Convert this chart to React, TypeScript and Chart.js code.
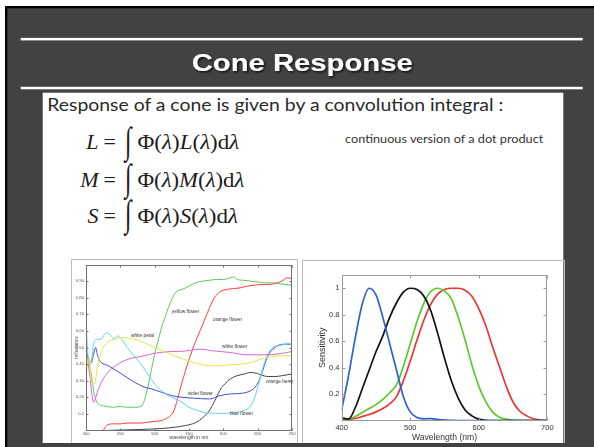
import React, { useEffect, useRef } from "react";
import { Chart, registerables } from "chart.js";

Chart.register(...registerables);

// ---------------- Right panel: cone / rod sensitivity ----------------
const sensWavelength = [400, 410, 420, 430, 440, 450, 460, 470, 480, 490, 500, 510, 520, 530, 540, 550, 560, 570, 580, 590, 600, 610, 620, 630, 640, 650, 660, 670, 680, 690, 700];
const sConeSens = [0.08, 0.34, 0.63, 0.88, 1.0, 0.95, 0.78, 0.58, 0.38, 0.18, 0.065, 0.022, 0.013, 0.014, 0.008, 0.003, 0.001, 0, 0, 0, 0, 0, 0, 0, 0, 0, 0, 0, 0, 0, 0];
const rodSens = [0.02, 0.01, 0.1, 0.24, 0.38, 0.52, 0.64, 0.78, 0.89, 0.97, 1.0, 0.99, 0.94, 0.83, 0.66, 0.47, 0.3, 0.17, 0.08, 0.035, 0.01, 0.002, 0, 0, 0, 0, 0, 0, 0, 0, 0];
const mConeSens = [0, 0.01, 0.03, 0.06, 0.09, 0.12, 0.16, 0.21, 0.27, 0.41, 0.58, 0.75, 0.89, 0.975, 1.0, 0.98, 0.92, 0.78, 0.61, 0.42, 0.26, 0.145, 0.065, 0.025, 0.01, 0.003, 0, 0, 0, 0, 0];
const lConeSens = [0, 0.008, 0.015, 0.03, 0.045, 0.065, 0.09, 0.125, 0.18, 0.3, 0.45, 0.61, 0.76, 0.88, 0.955, 0.99, 1.0, 1.0, 0.985, 0.94, 0.845, 0.72, 0.56, 0.41, 0.26, 0.14, 0.07, 0.035, 0.013, 0.004, 0];
const sensXTicks = [400, 500, 600, 700];
const sensYTicks = [0.2, 0.4, 0.6, 0.8, 1];
const sensYLabels = ["0.2", "0.4", "0.6", "0.8", "1"];

// ---------------- Left panel: flower reflectance spectra ----------------
const yellowFlowerNm = [400, 404, 408, 412, 416, 420, 430, 440, 450, 460, 470, 480, 485, 490, 495, 500, 505, 510, 515, 520, 525, 530, 535, 540, 550, 560, 570, 580, 590, 600, 610, 615, 620, 630, 640, 650, 660, 670, 680, 690, 700];
const yellowFlowerR = [0.5, 0.42, 0.33, 0.22, 0.17, 0.155, 0.145, 0.14, 0.145, 0.14, 0.14, 0.145, 0.18, 0.26, 0.36, 0.46, 0.54, 0.62, 0.68, 0.74, 0.79, 0.83, 0.845, 0.85, 0.87, 0.89, 0.9, 0.905, 0.91, 0.91, 0.92, 0.925, 0.91, 0.905, 0.9, 0.895, 0.89, 0.89, 0.885, 0.88, 0.875];

const orangeFlowerNm = [425, 430, 440, 450, 460, 470, 480, 490, 500, 510, 520, 527, 532, 537, 542, 547, 552, 557, 562, 567, 572, 577, 582, 587, 592, 597, 605, 615, 625, 635, 645, 655, 665, 675, 685, 693, 700];
const orangeFlowerR = [0.0, 0.03, 0.04, 0.04, 0.045, 0.045, 0.045, 0.05, 0.055, 0.06, 0.08, 0.11, 0.17, 0.25, 0.32, 0.39, 0.45, 0.51, 0.56, 0.61, 0.66, 0.71, 0.76, 0.8, 0.825, 0.84, 0.85, 0.855, 0.86, 0.87, 0.875, 0.88, 0.88, 0.885, 0.9, 0.92, 0.915];

const orangeBerryNm = [428, 450, 470, 490, 510, 530, 545, 555, 565, 572, 578, 584, 590, 596, 602, 610, 620, 630, 640, 648, 655, 665, 675, 685, 692, 700];
const orangeBerryR = [0.0, 0.003, 0.005, 0.008, 0.012, 0.02, 0.03, 0.04, 0.06, 0.085, 0.11, 0.15, 0.2, 0.25, 0.28, 0.31, 0.33, 0.34, 0.35, 0.345, 0.335, 0.325, 0.325, 0.33, 0.335, 0.34];

const blueFlowerNm = [400, 403, 407, 411, 416, 422, 427, 431, 436, 441, 446, 452, 460, 470, 480, 490, 500, 510, 520, 530, 540, 550, 560, 570, 580, 590, 600, 610, 620, 630, 638, 645, 650, 655, 660, 665, 672, 680, 690, 695, 700];
const blueFlowerR = [0.65, 0.45, 0.4, 0.52, 0.55, 0.55, 0.58, 0.59, 0.57, 0.555, 0.57, 0.55, 0.5, 0.45, 0.4, 0.34, 0.28, 0.24, 0.21, 0.19, 0.17, 0.14, 0.125, 0.11, 0.105, 0.103, 0.103, 0.105, 0.11, 0.12, 0.14, 0.19, 0.26, 0.34, 0.41, 0.46, 0.5, 0.51, 0.52, 0.525, 0.51];

const violetFlowerNm = [400, 404, 408, 411, 414, 417, 420, 433, 452, 467, 486, 496, 510, 525, 540, 556, 580, 595, 610, 634, 648, 653, 658, 665, 672, 687, 700];
const violetFlowerR = [0.47, 0.43, 0.41, 0.46, 0.5, 0.45, 0.42, 0.39, 0.34, 0.3, 0.26, 0.25, 0.23, 0.21, 0.2, 0.195, 0.19, 0.21, 0.22, 0.23, 0.27, 0.31, 0.37, 0.45, 0.49, 0.52, 0.52];

const whiteFlowerNm = [400, 405, 411, 418, 428, 443, 462, 481, 501, 525, 540, 566, 585, 610, 634, 658, 678, 700];
const whiteFlowerR = [0.48, 0.35, 0.17, 0.25, 0.33, 0.39, 0.43, 0.447, 0.466, 0.476, 0.477, 0.49, 0.48, 0.47, 0.456, 0.456, 0.46, 0.476];

const whitePetalNm = [400, 404, 408, 412, 418, 425, 435, 445, 455, 465, 475, 490, 505, 520, 535, 550, 565, 580, 595, 610, 625, 640, 655, 670, 685, 700];
const whitePetalR = [0.3, 0.45, 0.3, 0.28, 0.42, 0.5, 0.54, 0.555, 0.56, 0.555, 0.545, 0.52, 0.49, 0.466, 0.44, 0.42, 0.4, 0.39, 0.39, 0.397, 0.4, 0.41, 0.43, 0.445, 0.45, 0.45];

const reflXTicks = [400, 450, 500, 550, 600, 650, 700];
const reflYTicks = [0.1, 0.2, 0.3, 0.4, 0.5, 0.6, 0.7, 0.8, 0.9];
const reflYLabels = ["0.1", "0.20", "0.30", "0.40", "0.50", "0.60", "0.70", "0.80", "0.90"];

const reflLabelText = ["yellow flower", "orange flower", "white petal", "white flower", "violet flower", "blue flower", "orange berry"];
const reflLabelNm = [525, 585, 465.5, 598, 548, 609.6, 662];
const reflLabelR = [0.713, 0.666, 0.571, 0.502, 0.219, 0.104, 0.293];

const SANS = "'Liberation Sans', Arial, sans-serif";

function makeBoxTicks(color: string, len: number) {
  return {
    id: "boxTicks",
    afterDatasetsDraw(chart: any) {
      const { ctx, chartArea: a, scales } = chart;
      const L = Math.round(a.left) + 0.5;
      const R = Math.round(a.right) - 0.5;
      const T = Math.round(a.top) + 0.5;
      const B = Math.round(a.bottom) - 0.5;
      ctx.save();
      ctx.strokeStyle = color;
      ctx.lineWidth = 1;
      ctx.strokeRect(L, T, R - L, B - T);
      ctx.beginPath();
      scales.x.ticks.forEach((t: any) => {
        const px = Math.round(scales.x.getPixelForValue(t.value)) + 0.5;
        ctx.moveTo(px, B);
        ctx.lineTo(px, B - len);
        ctx.moveTo(px, T);
        ctx.lineTo(px, T + len);
      });
      scales.y.ticks.forEach((t: any) => {
        const py = Math.round(scales.y.getPixelForValue(t.value)) + 0.5;
        ctx.moveTo(L, py);
        ctx.lineTo(L + len, py);
        ctx.moveTo(R, py);
        ctx.lineTo(R - len, py);
      });
      ctx.stroke();
      ctx.restore();
    },
  };
}

const curveLabelPlugin = {
  id: "curveLabels",
  afterDatasetsDraw(chart: any) {
    const { ctx, scales } = chart;
    ctx.save();
    ctx.font = `4.8px ${SANS}`;
    ctx.fillStyle = "#333";
    ctx.textBaseline = "middle";
    ctx.textAlign = "left";
    reflLabelText.forEach((txt, i) => {
      ctx.fillText(txt, scales.x.getPixelForValue(reflLabelNm[i]), scales.y.getPixelForValue(reflLabelR[i]));
    });
    ctx.restore();
  },
};

function series(label: string, xs: number[], ys: number[], color: string, width: number) {
  return {
    label,
    data: xs.map((x, i) => ({ x, y: ys[i] })),
    showLine: true,
    borderColor: color,
    backgroundColor: color,
    borderWidth: width,
    pointRadius: 0,
    cubicInterpolationMode: "monotone",
    fill: false,
  };
}

function buildReflectanceConfig(): any {
  return {
    type: "scatter",
    data: {
      datasets: [
        series("white petal", whitePetalNm, whitePetalR, "#e4e44a", 1),
        series("white flower", whiteFlowerNm, whiteFlowerR, "#d466d4", 1),
        series("blue flower", blueFlowerNm, blueFlowerR, "#62d4ea", 1),
        series("violet flower", violetFlowerNm, violetFlowerR, "#4a4ad0", 1),
        series("orange berry", orangeBerryNm, orangeBerryR, "#444444", 1),
        series("orange flower", orangeFlowerNm, orangeFlowerR, "#ff3c3c", 1),
        series("yellow flower", yellowFlowerNm, yellowFlowerR, "#5cc85c", 1),
      ],
    },
    options: {
      animation: false,
      responsive: false,
      devicePixelRatio: 1,
      layout: { autoPadding: false, padding: { left: 0, right: 5, top: 1, bottom: 0 } },
      plugins: { legend: { display: false }, tooltip: { enabled: false } },
      scales: {
        x: {
          type: "linear",
          min: 400,
          max: 700,
          afterBuildTicks: (s: any) => {
            s.ticks = reflXTicks.map((v) => ({ value: v }));
          },
          afterFit: (s: any) => {
            s.height = 12.5;
          },
          grid: { display: false, drawTicks: false },
          border: { display: false },
          ticks: {
            autoSkip: false,
            maxRotation: 0,
            padding: 0.5,
            color: "#555",
            font: { family: SANS, size: 4.2 },
            callback: (v: any) => String(v),
          },
          title: {
            display: true,
            text: "wavelength in nm",
            color: "#444",
            font: { family: SANS, size: 5 },
            padding: { top: 0, bottom: 2.3 },
          },
        },
        y: {
          type: "linear",
          min: 0,
          max: 1,
          afterBuildTicks: (s: any) => {
            s.ticks = reflYTicks.map((v) => ({ value: v }));
          },
          afterFit: (s: any) => {
            s.width = 14;
          },
          grid: { display: false, drawTicks: false },
          border: { display: false },
          ticks: {
            autoSkip: false,
            padding: 2,
            color: "#555",
            font: { family: SANS, size: 4.2 },
            callback: (_v: any, i: number) => reflYLabels[i],
          },
          title: {
            display: true,
            text: "reflectance",
            color: "#444",
            font: { family: SANS, size: 4.6 },
            padding: { top: 2, bottom: 0 },
          },
        },
      },
    },
    plugins: [makeBoxTicks("#707070", 2), curveLabelPlugin],
  };
}

function buildSensitivityConfig(): any {
  return {
    type: "scatter",
    data: {
      datasets: [
        series("S", sensWavelength, sConeSens, "#2f5fd0", 1.7),
        series("rod", sensWavelength, rodSens, "#111111", 1.7),
        series("M", sensWavelength, mConeSens, "#5cc82c", 1.7),
        series("L", sensWavelength, lConeSens, "#ee3434", 1.7),
      ],
    },
    options: {
      animation: false,
      responsive: false,
      devicePixelRatio: 1,
      layout: { autoPadding: false, padding: { left: 0, right: 15.7, top: 14, bottom: 0 } },
      plugins: { legend: { display: false }, tooltip: { enabled: false } },
      scales: {
        x: {
          type: "linear",
          min: 400,
          max: 700,
          afterBuildTicks: (s: any) => {
            s.ticks = sensXTicks.map((v) => ({ value: v }));
          },
          afterFit: (s: any) => {
            s.height = 22.5;
          },
          grid: { display: false, drawTicks: false },
          border: { display: false },
          ticks: {
            autoSkip: false,
            maxRotation: 0,
            padding: 3,
            color: "#333",
            font: { family: SANS, size: 7.5 },
            callback: (v: any) => String(v),
          },
          title: {
            display: true,
            text: "Wavelength (nm)",
            color: "#333",
            font: { family: SANS, size: 8.6 },
            padding: { top: 0, bottom: 0 },
          },
        },
        y: {
          type: "linear",
          min: 0,
          max: 1.1,
          afterBuildTicks: (s: any) => {
            s.ticks = sensYTicks.map((v) => ({ value: v }));
          },
          afterFit: (s: any) => {
            s.width = 38.7;
          },
          grid: { display: false, drawTicks: false },
          border: { display: false },
          ticks: {
            autoSkip: false,
            padding: 2.2,
            color: "#333",
            font: { family: SANS, size: 7.5 },
            callback: (_v: any, i: number) => sensYLabels[i],
          },
          title: {
            display: true,
            text: "Sensitivity",
            color: "#333",
            font: { family: SANS, size: 9 },
            padding: { top: 14, bottom: 0 },
          },
        },
      },
    },
    plugins: [makeBoxTicks("#9a9a9a", 3)],
  };
}

function ChartCanvas(props: { left: number; top: number; width: number; height: number; build: () => any }) {
  const ref = useRef<HTMLCanvasElement>(null);
  useEffect(() => {
    const chart = new Chart(ref.current as HTMLCanvasElement, props.build());
    return () => chart.destroy();
  }, []);
  return (
    <canvas
      ref={ref}
      width={props.width}
      height={props.height}
      style={{ position: "absolute", left: props.left, top: props.top, width: props.width, height: props.height }}
    />
  );
}

function Formula(props: { letter: string; baseline: number; end: number }) {
  const serif = "'Liberation Serif', 'Times New Roman', serif";
  const b = props.baseline;
  return (
    <g fill="#1c1c1c" fontFamily={serif}>
      <text x={98.5} y={b} fontSize={22} fontStyle="italic" textAnchor="end">
        {props.letter}
      </text>
      <text x={109.7} y={b} fontSize={22} textAnchor="middle">
        =
      </text>
      <text transform={`translate(128.3 ${b + 3.2}) scale(1 1.55)`} x={0} y={0} fontSize={24} textAnchor="middle">
        ∫
      </text>
      <text x={137.5} y={b} fontSize={22} textLength={props.end - 137.5} lengthAdjust="spacingAndGlyphs">
        Φ(<tspan fontStyle="italic">λ</tspan>)<tspan fontStyle="italic">{props.letter}</tspan>(<tspan fontStyle="italic">λ</tspan>)d<tspan fontStyle="italic">λ</tspan>
      </text>
    </g>
  );
}

function Slide() {
  return (
    <svg width={594} height={447} style={{ position: "absolute", left: 0, top: 0 }}>
      <defs>
        <filter id="titleShadow" x="-10%" y="-40%" width="130%" height="180%">
          <feDropShadow dx="1.3" dy="1.3" stdDeviation="0.9" floodColor="#000" floodOpacity="0.85" />
        </filter>
      </defs>
      <rect x={0} y={0} width={594} height={447} fill="#ffffff" />
      <rect x={5} y={6} width={589} height={441} fill="#000000" />
      <rect x={7.3} y={8.3} width={586.7} height={438.7} fill="#424242" />
      <rect x={20.7} y={37.9} width={562} height={2.5} fill="#ffffff" />
      <rect x={20.7} y={86.8} width={562} height={2.5} fill="#ffffff" />
      <text
        x={191.7}
        y={71}
        fill="#ffffff"
        fontFamily={SANS}
        fontWeight="bold"
        fontSize={24.5}
        textLength={221}
        lengthAdjust="spacingAndGlyphs"
        filter="url(#titleShadow)"
      >
        Cone Response
      </text>
      <rect x={42.7} y={92.7} width={520.6} height={350.6} fill="#ffffff" />
      <text
        x={47.3}
        y={111.3}
        fill="#2a2a2a"
        fontFamily="Lato, 'Open Sans', sans-serif"
        fontSize={16.8}
        textLength={456}
        lengthAdjust="spacingAndGlyphs"
      >
        Response of a cone is given by a convolution integral :
      </text>
      <text
        x={345}
        y={143}
        fill="#333333"
        fontFamily="Lato, 'Open Sans', sans-serif"
        fontSize={11}
        textLength={198.3}
        lengthAdjust="spacingAndGlyphs"
      >
        continuous version of a dot product
      </text>
      <Formula letter="L" baseline={149.3} end={239.3} />
      <Formula letter="M" baseline={186.8} end={244.3} />
      <Formula letter="S" baseline={223} end={238} />
      <rect x={71.5} y={259.5} width={226} height={190} fill="none" stroke="#bcbcbc" strokeWidth={1} />
      <rect x={302.5} y={260.5} width={262} height={190} fill="none" stroke="#bcbcbc" strokeWidth={1} />
    </svg>
  );
}

export default function App() {
  useEffect(() => {
    document.body.style.margin = "0";
  }, []);
  return (
    <div style={{ position: "fixed", left: 0, top: 0, width: 594, height: 447, overflow: "hidden", background: "#fff" }}>
      <Slide />
      <ChartCanvas left={72} top={260} width={225} height={183} build={buildReflectanceConfig} />
      <ChartCanvas left={303} top={261} width={260} height={182} build={buildSensitivityConfig} />
      <div style={{ position: "absolute", left: 42.7, top: 443.3, width: 552, height: 4, background: "#424242" }} />
    </div>
  );
}
